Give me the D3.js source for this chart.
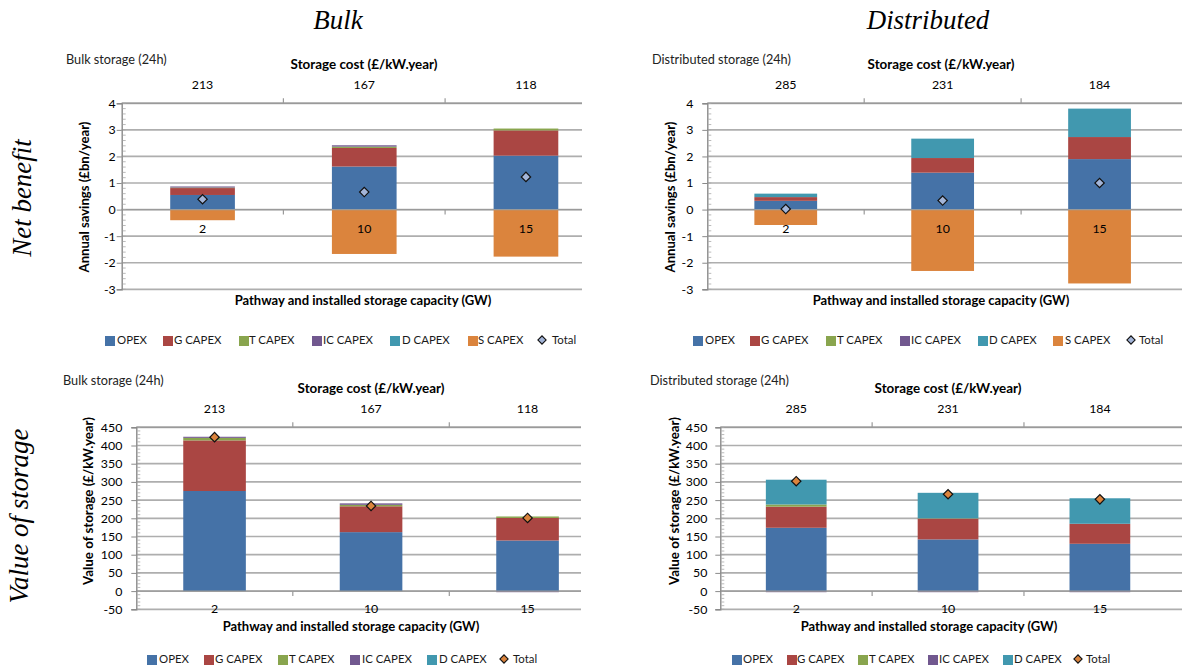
<!DOCTYPE html>
<html><head><meta charset="utf-8">
<script src="https://cdn.jsdelivr.net/npm/d3@7"></script>
<style>
body{margin:0;background:#fff;}
svg{display:block;font-family:Lato,"Liberation Sans",sans-serif;}
</style></head><body>
<svg id="chart" width="1193" height="671"></svg>
<script>
// ---------- data ----------
const capacityGW = ["2", "10", "15"];
const bulkCost = ["213", "167", "118"];
const distCost = ["285", "231", "184"];
const seriesNames = ["OPEX", "G CAPEX", "T CAPEX", "IC CAPEX", "D CAPEX", "S CAPEX"];
const seriesColors = ["#4572A7", "#AA4643", "#89A54E", "#71588F", "#4198AF", "#DB843D"];
const netTicks = [-3, -2, -1, 0, 1, 2, 3, 4];
const valueTicks = [-50, 0, 50, 100, 150, 200, 250, 300, 350, 400, 450];

// Net benefit, bulk storage (£bn/year)
const bulkNetOPEX = [0.55, 1.62, 2.03];
const bulkNetG = [0.26, 0.70, 0.95];
const bulkNetT = [0.02, 0.05, 0.07];
const bulkNetIC = [0.04, 0.05, 0.00];
const bulkNetD = [0.00, 0.00, 0.00];
const bulkNetS = [-0.40, -1.67, -1.77];
const bulkNetTotal = [0.39, 0.66, 1.23];

// Net benefit, distributed storage (£bn/year)
const distNetOPEX = [0.33, 1.39, 1.90];
const distNetG = [0.14, 0.55, 0.83];
const distNetT = [0.00, 0.00, 0.00];
const distNetIC = [0.00, 0.00, 0.00];
const distNetD = [0.13, 0.73, 1.07];
const distNetS = [-0.58, -2.31, -2.78];
const distNetTotal = [0.02, 0.34, 1.00];

// Value of storage, bulk (£/kW.year)
const bulkValOPEX = [275, 162, 139];
const bulkValG = [139, 71, 62];
const bulkValT = [7, 4, 4];
const bulkValIC = [3, 4, -3];
const bulkValD = [0, 0, 0];
const bulkValTotal = [423, 234, 201];

// Value of storage, distributed (£/kW.year)
const distValOPEX = [174, 142, 130];
const distValG = [58, 57, 55];
const distValT = [6, 1, 0];
const distValIC = [-3, -3, -3];
const distValD = [68, 70, 70];
const distValTotal = [302, 266, 252];

// ---------- layout ----------
const svg = d3.select("#chart");
const serif = "'Liberation Serif', 'DejaVu Serif', serif";
const ink = "#000";

function fitSize(text, weight, targetW, family, style) {
  const t = svg.append("text").attr("font-size", 100).attr("font-weight", weight || "normal")
    .attr("font-family", family || null).attr("font-style", style || null).text(text);
  const w = t.node().getComputedTextLength();
  t.remove();
  return 100 * targetW / w;
}

const FS = {
  tick: fitSize("213", "normal", 21.5),
  legend: fitSize("IC CAPEX", "normal", 50),
  sub: fitSize("Distributed storage (24h)", "normal", 139),
  cost: fitSize("Storage cost  (£/kW.year)", "bold", 147),
  path: fitSize("Pathway and installed  storage capacity  (GW)", "bold", 257),
  ylabNet: fitSize("Annual savings  (£bn/year)", "bold", 151),
  ylabVal: fitSize("Value of storage  (£/kW.year)", "bold", 168)
};

const panels = [
  { sub: "Bulk storage  (24h)", costs: bulkCost, ylab: "Annual savings  (£bn/year)", ylabFS: FS.ylabNet,
    keys: seriesNames, values: [bulkNetOPEX, bulkNetG, bulkNetT, bulkNetIC, bulkNetD, bulkNetS], total: bulkNetTotal,
    domain: [-3, 4], ticks: netTicks, minorStep: 0.2, diamond: "#A3B5D8", tickPad: 1,
    x0: 121.7, x1: 606.8, xEnd: 582, yTop: 103.3, yBot: 289.3,
    subX: 66, subY: 61, costY: 66, costX: 364, topLblY: 86, ylabX: 86, ylabY: 197,
    catY: "zero", pathX: 363, pathY: 302, legY: 341,
    legBox: [105, 163, 239, 312, 390, 468, 542], legTxt: [117, 174, 249, 323, 402, 478, 552] },
  { sub: "Distributed storage (24h)", costs: distCost, ylab: "Annual savings  (£bn/year)", ylabFS: FS.ylabNet,
    keys: seriesNames, values: [distNetOPEX, distNetG, distNetT, distNetIC, distNetD, distNetS], total: distNetTotal,
    domain: [-3, 4], ticks: netTicks, minorStep: 0.2, diamond: "#A3B5D8", tickPad: 9,
    x0: 707.3, x1: 1178, xEnd: 1182, yTop: 103.3, yBot: 289.3,
    subX: 652, subY: 61, costY: 66, costX: 941, topLblY: 86, ylabX: 672, ylabY: 197,
    catY: "zero", pathX: 941, pathY: 302, legY: 341,
    legBox: [693, 750, 826, 900, 978, 1053, 1131], legTxt: [705, 761, 837, 911, 989, 1065, 1139] },
  { sub: "Bulk storage  (24h)", costs: bulkCost, ylab: "Value of storage  (£/kW.year)", ylabFS: FS.ylabVal,
    keys: seriesNames.slice(0, 5), values: [bulkValOPEX, bulkValG, bulkValT, bulkValIC, bulkValD], total: bulkValTotal,
    domain: [-50, 450], ticks: valueTicks, minorStep: 10, diamond: "#DB843D", tickPad: 9,
    x0: 136.3, x1: 605.8, xEnd: 581, yTop: 427.3, yBot: 609.3,
    subX: 63, subY: 382, costY: 390, costX: 371, topLblY: 410, ylabX: 90, ylabY: 501,
    catY: "bottom", pathX: 351, pathY: 628, legY: 660,
    legBox: [147, 204, 278, 350, 427, 504], legTxt: [159, 215, 289, 362, 439, 513] },
  { sub: "Distributed storage (24h)", costs: distCost, ylab: "Value of storage  (£/kW.year)", ylabFS: FS.ylabVal,
    keys: seriesNames.slice(0, 5), values: [distValOPEX, distValG, distValT, distValIC, distValD], total: distValTotal,
    domain: [-50, 450], ticks: valueTicks, minorStep: 10, diamond: "#DB843D", tickPad: 8,
    x0: 720.3, x1: 1175.8, xEnd: 1182, yTop: 427.3, yBot: 609.3,
    subX: 650, subY: 382, costY: 390, costX: 948, topLblY: 410, ylabX: 676, ylabY: 501,
    catY: "bottom", pathX: 929, pathY: 628, legY: 660,
    legBox: [732, 787, 858, 928, 1003, 1078], legTxt: [743, 797, 869, 939, 1014, 1086] }
];

const diamondPath = d3.symbol(d3.symbolSquare, 44)();

function drawPanel(p, idx) {
  const g = svg.append("g");
  const clipId = "clip" + idx;
  svg.append("clipPath").attr("id", clipId).append("rect")
    .attr("x", p.x0 - 6).attr("y", p.yTop - 8).attr("width", p.xEnd - p.x0 + 6).attr("height", p.yBot - p.yTop + 16);

  const x = d3.scaleBand().domain(capacityGW).range([p.x0, p.x1]).paddingInner(0.6).paddingOuter(0.3);
  const y = d3.scaleLinear().domain(p.domain).range([p.yBot, p.yTop]);
  const plot = g.append("g").attr("clip-path", `url(#${clipId})`);

  // gridlines
  plot.selectAll("line.grid").data(p.ticks).join("line")
    .attr("x1", p.x0).attr("x2", p.xEnd)
    .attr("y1", d => y(d)).attr("y2", d => y(d))
    .attr("stroke", "#AEAEAE").attr("stroke-width", 1.7);

  // stacked bars
  const rows = capacityGW.map((c, i) => {
    const o = { cat: c };
    p.keys.forEach((k, j) => { o[k] = p.values[j][i]; });
    return o;
  });
  const stacked = d3.stack().keys(p.keys).offset(d3.stackOffsetDiverging)(rows);
  plot.selectAll("g.series").data(stacked).join("g")
    .attr("fill", d => seriesColors[seriesNames.indexOf(d.key)])
    .selectAll("rect").data(d => d).join("rect")
    .attr("x", d => x(d.data.cat))
    .attr("width", x.bandwidth())
    .attr("y", d => y(Math.max(d[0], d[1])))
    .attr("height", d => Math.abs(y(d[0]) - y(d[1])));

  // category axis at zero with divider ticks
  const dividers = [1, 2].map(i => p.x0 + i * x.step());
  g.append("line").attr("x1", p.x0).attr("x2", p.xEnd).attr("y1", y(0)).attr("y2", y(0))
    .attr("stroke", "#9A9A9A").attr("stroke-width", 1.4);
  g.selectAll("line.divb").data(dividers).join("line")
    .attr("x1", d => d).attr("x2", d => d).attr("y1", y(0)).attr("y2", y(0) + 5)
    .attr("stroke", "#9A9A9A").attr("stroke-width", 1.2);

  // top (cost) axis
  g.append("line").attr("x1", p.x0).attr("x2", p.xEnd).attr("y1", p.yTop).attr("y2", p.yTop)
    .attr("stroke", "#9A9A9A").attr("stroke-width", 1.4);
  g.selectAll("line.divt").data(dividers).join("line")
    .attr("x1", d => d).attr("x2", d => d).attr("y1", p.yTop).attr("y2", p.yTop - 5)
    .attr("stroke", "#9A9A9A").attr("stroke-width", 1.2);
  g.selectAll("text.cost").data(p.costs).join("text")
    .attr("x", (d, i) => x(capacityGW[i]) + x.bandwidth() / 2).attr("y", p.topLblY)
    .attr("text-anchor", "middle").attr("dominant-baseline", "middle")
    .attr("font-size", FS.tick).attr("fill", ink).text(d => d);

  // y axis
  const yAxis = d3.axisLeft(y).tickValues(p.ticks).tickSize(5).tickPadding(p.tickPad).tickFormat(d => String(d));
  const ya = g.append("g").attr("transform", `translate(${p.x0},0)`).call(yAxis);
  ya.select(".domain").attr("stroke", "#8A8A8A").attr("stroke-width", 1.4);
  ya.selectAll(".tick line").attr("stroke", "#8A8A8A");
  ya.selectAll(".tick text").attr("font-size", FS.tick).attr("fill", ink).attr("font-family", "Lato");
  // minor ticks inside
  const minor = d3.range(p.domain[0], p.domain[1] + 1e-9, p.minorStep);
  g.selectAll("line.minor").data(minor).join("line")
    .attr("x1", p.x0 + 1).attr("x2", p.x0 + 4)
    .attr("y1", d => y(d)).attr("y2", d => y(d))
    .attr("stroke", "#A8A8A8").attr("stroke-width", 0.8);

  // category labels
  const catY = p.catY === "zero" ? y(0) + 20 : y(p.domain[0]) + 1;
  g.selectAll("text.cat").data(capacityGW).join("text")
    .attr("x", d => x(d) + x.bandwidth() / 2).attr("y", catY)
    .attr("text-anchor", "middle").attr("dominant-baseline", "middle")
    .attr("font-size", FS.tick).attr("fill", ink).text(d => d);

  // totals
  g.selectAll("path.total").data(p.total).join("path")
    .attr("d", diamondPath)
    .attr("transform", (d, i) => `translate(${x(capacityGW[i]) + x.bandwidth() / 2},${y(d)}) rotate(45)`)
    .attr("fill", p.diamond).attr("stroke", "#111").attr("stroke-width", 1.2);

  // titles
  g.append("text").attr("x", p.subX).attr("y", p.subY).attr("dominant-baseline", "middle")
    .attr("font-size", FS.sub).attr("fill", "#222").text(p.sub);
  g.append("text").attr("x", p.costX).attr("y", p.costY).attr("text-anchor", "middle").attr("dominant-baseline", "middle")
    .attr("font-size", FS.cost).attr("font-weight", "bold").attr("fill", ink).text("Storage cost  (£/kW.year)");
  g.append("text").attr("x", p.pathX).attr("y", p.pathY).attr("text-anchor", "middle").attr("dominant-baseline", "middle")
    .attr("font-size", FS.path).attr("font-weight", "bold").attr("fill", ink).text("Pathway and installed  storage capacity  (GW)");
  g.append("text").attr("transform", `translate(${p.ylabX},${p.ylabY}) rotate(-90)`)
    .attr("text-anchor", "middle").attr("dominant-baseline", "middle")
    .attr("font-size", p.ylabFS).attr("font-weight", "bold").attr("fill", ink).text(p.ylab);

  // legend
  const items = p.keys.map(k => ({ name: k, color: seriesColors[seriesNames.indexOf(k)], type: "box" }))
    .concat([{ name: "Total", color: p.diamond, type: "diamond" }]);
  items.forEach((it, i) => {
    if (it.type === "box") {
      g.append("rect").attr("x", p.legBox[i]).attr("y", p.legY - 5).attr("width", 10).attr("height", 10).attr("fill", it.color);
    } else {
      g.append("path").attr("d", d3.symbol(d3.symbolSquare, 34)())
        .attr("transform", `translate(${p.legBox[i]},${p.legY - 1}) rotate(45)`)
        .attr("fill", it.color).attr("stroke", "#111").attr("stroke-width", 1.1);
    }
    g.append("text").attr("x", p.legTxt[i]).attr("y", p.legY).attr("dominant-baseline", "middle")
      .attr("font-size", FS.legend).attr("fill", "#1a1a1a").text(it.name);
  });
}

panels.forEach(drawPanel);

// section headings
const headFS = fitSize("Value of storage", "normal", 175, serif, "italic");
svg.append("text").attr("x", 338).attr("y", 29).attr("text-anchor", "middle")
  .attr("font-family", serif).attr("font-style", "italic").attr("font-size", headFS).text("Bulk");
svg.append("text").attr("x", 928).attr("y", 29).attr("text-anchor", "middle")
  .attr("font-family", serif).attr("font-style", "italic").attr("font-size", headFS).text("Distributed");
svg.append("text").attr("transform", "translate(31,198) rotate(-90)").attr("text-anchor", "middle")
  .attr("font-family", serif).attr("font-style", "italic").attr("font-size", headFS).text("Net benefit");
svg.append("text").attr("transform", "translate(28,516) rotate(-90)").attr("text-anchor", "middle")
  .attr("font-family", serif).attr("font-style", "italic").attr("font-size", headFS).text("Value of storage");
</script>
</body></html>
